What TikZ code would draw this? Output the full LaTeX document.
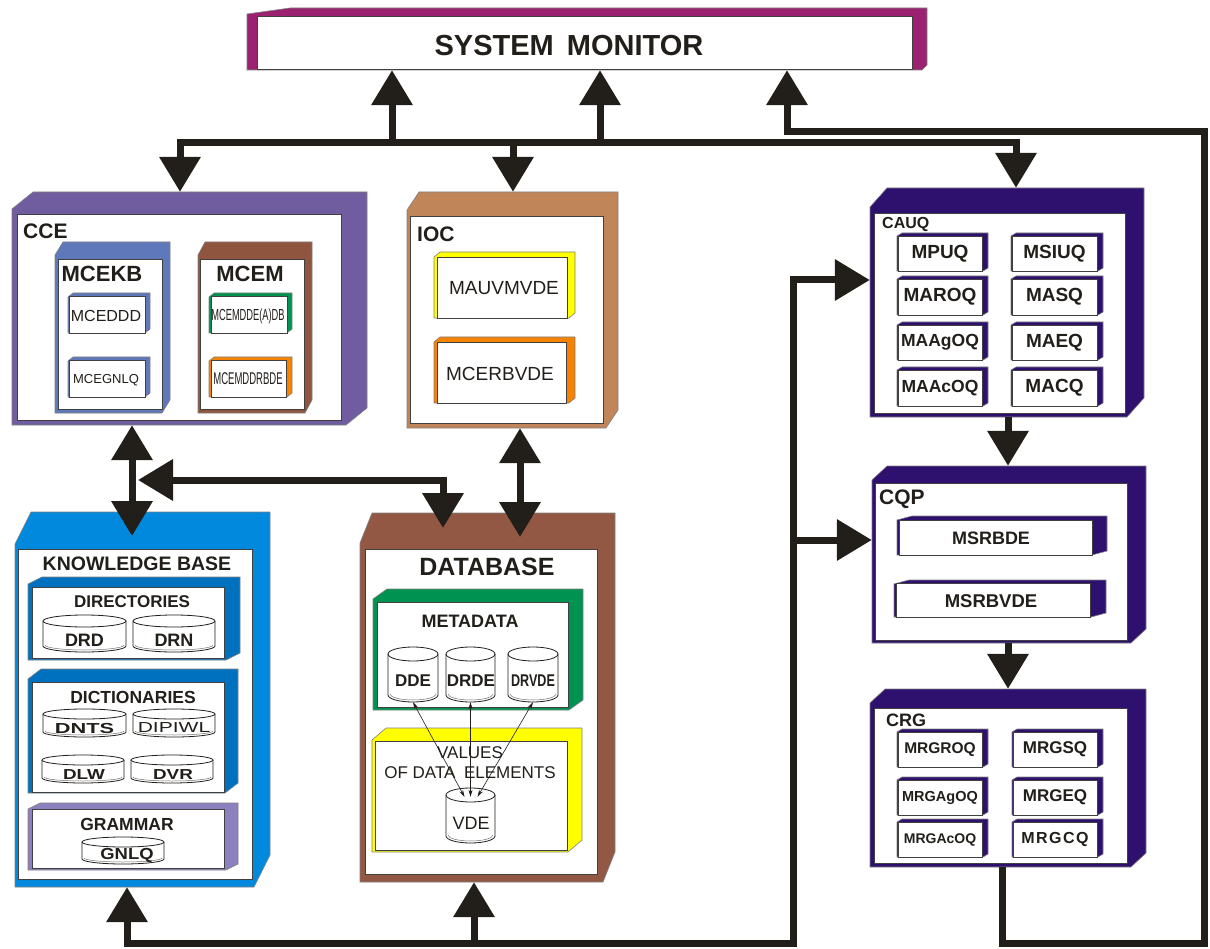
\documentclass[tikz,border=0pt]{standalone}
\usepackage{fontspec}
\setmainfont{Liberation Sans}
\usepackage{graphicx}
\usetikzlibrary{arrows.meta,fit,calc}

\definecolor{ink}{RGB}{34,31,27}
\definecolor{smc}{RGB}{155,34,112}
\definecolor{ccec}{RGB}{111,93,160}
\definecolor{kbc1}{RGB}{94,120,186}
\definecolor{brc}{RGB}{143,85,62}
\definecolor{greenc}{RGB}{0,146,80}
\definecolor{orc}{RGB}{245,130,0}
\definecolor{iocc}{RGB}{193,133,90}
\definecolor{yelc}{RGB}{255,255,0}
\definecolor{kbc}{RGB}{0,137,221}
\definecolor{dirc}{RGB}{0,113,190}
\definecolor{gramc}{RGB}{141,128,190}
\definecolor{dbc}{RGB}{147,88,67}
\definecolor{indc}{RGB}{46,16,110}

\newcommand\fsz[1]{\fontsize{#1}{#1}\selectfont}

% extruded block outline: name, colour, left, top, right, bottom, chamfer dx, chamfer dy
\newcommand\shell[8]{%
  \filldraw[fill=#2, draw=black!50, line width=0.6pt]
    (#3,{#4+#8}) -- ({#3+#7},#4) -- (#5,#4) -- (#5,{#6-#8}) -- ({#5-#7},#6) -- (#3,#6) -- cycle;
  \node[fit={(#3,#4) (#5,#6)}, inner sep=0pt] (#1) {};}

% white front face
\newcommand\face[4]{%
  \filldraw[fill=white, draw=black!75, line width=0.7pt] ({#1},{#2}) rectangle ({#3},{#4});}

% small module block with its label
\newcommand\module[7]{%
  \shell{#1}{#2}{#3}{#4}{#5}{#6}{5}{3}
  \face{#3+1}{#4+3}{#5-6}{#6}
  \node[txt] (#1-t) at ({(#3+#5-5)/2},{(#4+3+#6)/2}) {#7};}

% drum: name, centre x, top, bottom, width, ellipse half height
\newcommand\drum[6]{%
  \filldraw[fill=white, draw=ink, line width=0.8pt]
    ({#2-#5/2},{#3+#6}) -- ({#2-#5/2},{#4-#6})
    arc[start angle=180, end angle=360, x radius={#5*0.5pt}, y radius={#6*1pt}]
    -- ({#2+#5/2},{#3+#6})
    arc[start angle=0, end angle=180, x radius={#5*0.5pt}, y radius={#6*1pt}] -- cycle;
  \draw[ink, line width=0.8pt] ({#2-#5/2},{#3+#6})
    arc[start angle=180, end angle=360, x radius={#5*0.5pt}, y radius={#6*1pt}];
  \draw[black!55, line width=0.5pt] ({#2-#5/2+2},{#4-#6-1})
    arc[start angle=180, end angle=360, x radius={(#5-4)*0.5pt}, y radius={(#6-1)*1pt}];
  \node[fit={({#2-#5/2},#3) ({#2+#5/2},#4)}, inner sep=0pt] (#1) {};}

\begin{document}
\begin{tikzpicture}[x=1pt, y=-1pt,
  txt/.style={inner sep=0pt, text=ink},
  pipe/.style={draw=ink, line width=7pt, line join=miter},
  >={Triangle[width=40pt,length=35pt]},
  thinlink/.style={draw=ink, line width=0.6pt,
    {Stealth[length=7pt,width=4pt]}-{Stealth[length=7pt,width=4pt]}}]
\useasboundingbox (0,0) rectangle (1210,949);

% ---------- system monitor ----------
\filldraw[fill=smc, draw=black!50, line width=0.6pt]
  (247,14) -- (290,8) -- (927,8) -- (927,65) -- (922,70) -- (247,70) -- cycle;
\face{257}{16}{912}{69}
\node[fit={(247,8) (927,70)}, inner sep=0pt] (sm) {};
\node[txt] (sm-t) at (569,46) {\fsz{29}\bfseries SYSTEM\hspace{0.45em}MONITOR};

% ---------- CCE ----------
\shell{cce}{ccec}{12}{192}{367}{425}{21}{17}
\face{17}{214}{341}{420}
\node[txt, anchor=west] (cce-t) at (23,231) {\fsz{21}\bfseries CCE};
\shell{mcekb}{kbc1}{55}{242}{170}{413}{8}{13}
\face{58}{259}{162}{409}
\node[txt] (mcekb-t) at (102,274) {\fsz{22}\bfseries MCEKB};
\shell{mceddd}{kbc1}{68}{293}{150}{333}{5}{4}
\face{69}{296}{145}{333}
\node[txt] (mceddd-t) at (106,316) {\fsz{16}MCEDDD};
\shell{mcegnlq}{kbc1}{68}{357}{150}{397}{5}{4}
\face{69}{360}{145}{397}
\node[txt] (mcegnlq-t) at (106,380) {\fsz{13}MCEGNLQ};
\shell{mcem}{brc}{198}{242}{312}{413}{7}{13}
\face{200}{259}{304}{409}
\node[txt] (mcem-t) at (250,274) {\fsz{22}\bfseries MCEM};
\shell{mcemdb}{greenc}{209}{293}{292}{333}{5}{4}
\face{211}{296}{287}{333}
\node[txt] (mcemdb-t) at (248,316) {\fsz{16}\scalebox{0.58}[1]{MCEMDDE(A)DB}};
\shell{mcemdd}{orc}{209}{357}{292}{397}{5}{4}
\face{211}{360}{286}{397}
\node[txt] (mcemdd-t) at (248,379) {\fsz{17}\scalebox{0.56}[1]{MCEMDDRBDE}};

% ---------- IOC ----------
\shell{ioc}{iocc}{407}{192}{618}{428}{12}{18}
\face{410}{216}{603}{423}
\node[txt, anchor=west] (ioc-t) at (417,234) {\fsz{21}\bfseries IOC};
\shell{mauv}{yelc}{434}{252}{575}{318}{6}{5}
\face{437}{257}{567}{318}
\node[txt] (mauv-t) at (504,288) {\fsz{19}MAUVMVDE};
\shell{mcerb}{orc}{434}{337}{575}{403}{6}{5}
\face{437}{342}{566}{403}
\node[txt] (mcerb-t) at (500,374) {\fsz{19}MCERBVDE};

% ---------- knowledge base ----------
\shell{kb}{kbc}{15}{512}{270}{887}{16}{32}
\face{18}{549}{252}{879}
\node[txt] (kb-t) at (137,564) {\fsz{19.5}\bfseries KNOWLEDGE BASE};
\shell{dir}{dirc}{28}{577}{240}{660}{14}{7}
\face{32}{587}{224}{658}
\node[txt] (dir-t) at (132,602) {\fsz{17}\bfseries DIRECTORIES};
\drum{drd}{84.5}{615}{652}{83}{6}
\node[txt] (drd-t) at (84.5,640) {\fsz{18}\bfseries DRD};
\drum{drn}{174}{615}{652}{82}{6}
\node[txt] (drn-t) at (174,640) {\fsz{18}\bfseries DRN};
\shell{dict}{dirc}{28}{669}{238}{793}{13}{10}
\face{32}{682}{224}{792}
\node[txt] (dict-t) at (133,697) {\fsz{17.5}\bfseries DICTIONARIES};
\drum{dnts}{84.5}{709}{737}{83}{5}
\node[txt] (dnts-t) at (84.5,729) {\fsz{14.5}\bfseries\scalebox{1.5}[1]{DNTS}};
\drum{dipiwl}{174}{709}{737}{82}{5}
\node[txt] (dipiwl-t) at (174,728) {\fsz{14.5}\scalebox{1.45}[1]{DIPIWL}};
\drum{dlw}{83}{755}{783}{82}{5}
\node[txt] (dlw-t) at (84,775) {\fsz{14.5}\bfseries\scalebox{1.3}[1]{DLW}};
\drum{dvr}{172}{755}{783}{82}{5}
\node[txt] (dvr-t) at (173,775) {\fsz{14.5}\bfseries\scalebox{1.3}[1]{DVR}};
\shell{gram}{gramc}{28}{803}{238}{870}{12}{6}
\face{32}{809}{224}{868}
\node[txt] (gram-t) at (127,824) {\fsz{17.5}\bfseries GRAMMAR};
\drum{gnlq}{123}{837}{864}{82}{5}
\node[txt] (gnlq-t) at (127,855) {\fsz{16}\bfseries\scalebox{1.15}[1]{GNLQ}};

% ---------- database ----------
\shell{db}{dbc}{360}{513}{615}{882}{12}{30}
\face{365}{549}{597}{874}
\node[txt] (db-t) at (487,567) {\fsz{25}\bfseries DATABASE};
\shell{meta}{greenc}{373}{589}{583}{710}{14}{10}
\face{377}{602}{568}{707}
\node[txt] (meta-t) at (470,621) {\fsz{18}\bfseries METADATA};
\drum{dde}{413}{647}{702}{50}{7}
\node[txt] (dde-t) at (413,681) {\fsz{17}\bfseries DDE};
\drum{drde}{470.5}{647}{702}{49}{7}
\node[txt] (drde-t) at (471,681) {\fsz{17}\bfseries DRDE};
\drum{drvde}{533}{647}{702}{50}{7}
\node[txt] (drvde-t) at (533,681) {\fsz{17}\bfseries\scalebox{0.74}[1]{DRVDE}};
\shell{vals}{yelc}{372}{728}{582}{852}{14}{12}
\face{375}{741}{567}{850}
\node[txt] (vals-t1) at (470,753) {\fsz{17}VALUES};
\node[txt] (vals-t2) at (470,773) {\fsz{17}OF DATA\hspace{0.5em}ELEMENTS};
\drum{vde}{470.5}{788}{843}{49}{7}
\node[txt] (vde-t) at (471,823) {\fsz{18}VDE};
\draw[thinlink] (dde.south) -- ($(vde.north)+(-6,9)$);
\draw[thinlink] (drde.south) -- ($(vde.north)+(0,9)$);
\draw[thinlink] (drvde.south) -- ($(vde.north)+(7,9)$);

% ---------- CAUQ ----------
\shell{cauq}{indc}{870}{188}{1144}{417}{17}{19}
\face{874}{213}{1125}{413}
\node[txt, anchor=west] (cauq-t) at (882,224) {\fsz{16}\bfseries CAUQ};
\module{mpuq}{indc}{897}{233}{988}{271}{\fsz{19}\bfseries MPUQ}
\module{msiuq}{indc}{1011}{233}{1103}{271}{\fsz{19}\bfseries MSIUQ}
\module{maroq}{indc}{897}{276}{988}{315}{\fsz{19}\bfseries MAROQ}
\module{masq}{indc}{1011}{276}{1103}{315}{\fsz{19}\bfseries MASQ}
\module{maagoq}{indc}{897}{322}{988}{360}{\fsz{17.5}\bfseries MAAgOQ}
\module{maeq}{indc}{1011}{322}{1103}{360}{\fsz{19}\bfseries MAEQ}
\module{maacoq}{indc}{897}{367}{988}{406}{\fsz{17.5}\bfseries MAAcOQ}
\module{macq}{indc}{1011}{367}{1103}{406}{\fsz{19}\bfseries MACQ}

% ---------- CQP ----------
\shell{cqp}{indc}{872}{466}{1146}{643}{15}{14}
\face{875}{483}{1127}{640}
\node[txt, anchor=west] (cqp-t) at (879,499) {\fsz{21}\bfseries CQP};
\shell{msrbde}{indc}{897}{516}{1107}{555}{15}{4}
\face{899}{520}{1092}{555}
\node[txt] (msrbde-t) at (991,538) {\fsz{18}\bfseries MSRBDE};
\shell{msrbvde}{indc}{894}{580}{1106}{617}{15}{4}
\face{896}{583}{1090}{617}
\node[txt] (msrbvde-t) at (991,601) {\fsz{18.5}\bfseries MSRBVDE};

% ---------- CRG ----------
\shell{crg}{indc}{870}{689}{1146}{867}{15}{14}
\face{874}{708}{1127}{863}
\node[txt, anchor=west] (crg-t) at (886,720) {\fsz{18}\bfseries CRG};
\module{mrgroq}{indc}{897}{729}{988}{767}{\fsz{15.5}\bfseries MRGROQ}
\module{mrgsq}{indc}{1012}{729}{1103}{767}{\fsz{17}\bfseries MRGSQ}
\module{mrgagoq}{indc}{897}{777}{988}{815}{\fsz{14.5}\bfseries MRGAgOQ}
\module{mrgeq}{indc}{1012}{777}{1103}{815}{\fsz{17}\bfseries MRGEQ}
\module{mrgacoq}{indc}{897}{819}{988}{857}{\fsz{14}\bfseries MRGAcOQ}
\module{mrgcq}{indc}{1012}{819}{1103}{857}{\fsz{16}\bfseries M\kern1.5pt R\kern1.5pt G\kern1.5pt C\kern1.5pt Q}

% ---------- connectors ----------
\coordinate (busL) at (180,143);
\coordinate (busR) at (1016,143);
\coordinate (busA) at (392,143);
\coordinate (busB) at (600,143);
\coordinate (busI) at (513,143);
\draw[pipe,<->] (busL |- cce.north) -- (busL) -- (busR) -- (busR |- cauq.north);
\draw[pipe,->] (busA) -- (busA |- sm.south);
\draw[pipe,->] (busB) -- (busB |- sm.south);
\draw[pipe,->] (busI) -- (busI |- ioc.north);

\coordinate (fb1) at (1002,943);
\coordinate (fb2) at (1204,943);
\coordinate (fb3) at (1204,132);
\coordinate (fb4) at (787,132);
\draw[pipe,->] (fb1 |- crg.south) -- (fb1) -- (fb2) -- (fb3) -- (fb4) -- (fb4 |- sm.south);

\coordinate (lp1) at (127,943);
\coordinate (lp2) at (793,943);
\coordinate (lp3) at (793,280);
\coordinate (lp4) at (793,540);
\coordinate (lp5) at (474,943);
\draw[pipe,<->] (lp1 |- kb.south) -- (lp1) -- (lp2) -- (lp3) -- (lp3 -| cauq.west);
\draw[pipe,->] (lp5) -- (lp5 |- db.south);
\draw[pipe,->] (lp4) -- (lp4 -| cqp.west);

\coordinate (kbin) at (132,536);
\draw[pipe,<->] (kbin |- cce.south) -- (kbin);
\coordinate (h1) at (138,480);
\coordinate (h2) at (443,480);
\coordinate (h3) at (443,528);
\draw[pipe,<->] (h1) -- (h2) -- (h3);
\coordinate (dbin) at (520,537);
\draw[pipe,<->] (dbin |- ioc.south) -- (dbin);

\coordinate (qx) at (1008,0);
\draw[pipe,->] (qx |- cauq.south) -- (qx |- cqp.north);
\draw[pipe,->] (qx |- cqp.south) -- (qx |- crg.north);
\end{tikzpicture}
\end{document}
